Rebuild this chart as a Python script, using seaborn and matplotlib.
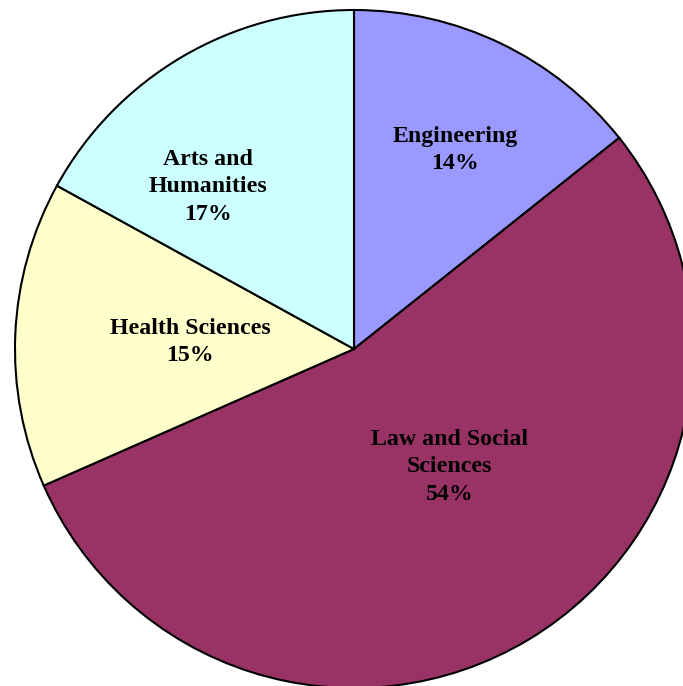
import matplotlib
matplotlib.use("Agg")
import matplotlib.pyplot as plt
import seaborn as sns

# Data (shares in %)
fields = ["Engineering", "Law and Social\nSciences", "Health Sciences", "Arts and\nHumanities"]
shares = [14.3, 54.1, 14.6, 17.0]
colors = ["#9999FF", "#993366", "#FFFFCC", "#CCFFFF"]

# label centres (pie radius = 1, centre at 0,0)
label_pos = [(0.298, 0.587), (0.283, -0.348), (-0.484, 0.021), (-0.431, 0.478)]

sns.set_style("white")
plt.rcParams["font.family"] = ["Liberation Serif", "DejaVu Serif"]

fig = plt.figure(figsize=(6.83, 6.86), dpi=100)
ax = fig.add_axes([0, 0, 1, 1])

ax.pie(shares, colors=colors, startangle=90, counterclock=False,
       radius=1, center=(0, 0),
       wedgeprops=dict(edgecolor="black", linewidth=1.5))

for name, val, (x, y) in zip(fields, shares, label_pos):
    ax.text(x, y, f"{name}\n{round(val)}%", ha="center", va="center",
            fontsize=17.2, fontweight="bold", linespacing=1.42, color="black")

# pie centre sits at pixel (354, 349), radius 339 px
ax.set_xlim(-354 / 339, (683 - 354) / 339)
ax.set_ylim(-(686 - 349) / 339, 349 / 339)
ax.set_aspect("auto")
ax.axis("off")

fig.savefig("out.png", dpi=100)
